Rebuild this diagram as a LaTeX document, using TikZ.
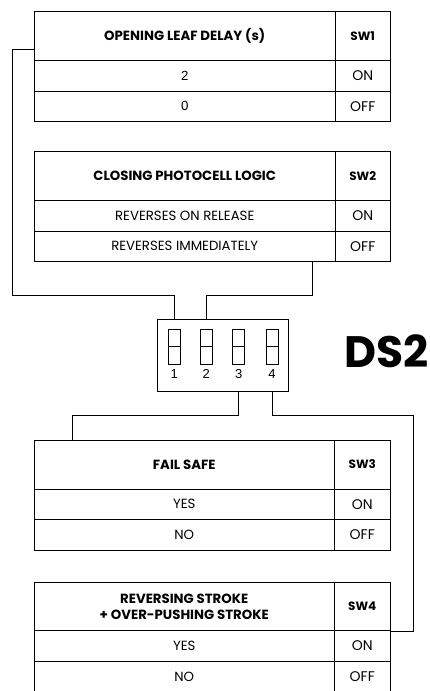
\documentclass[tikz,border=0pt]{standalone}
\usepackage{fontspec}
\setmainfont{Poppins}
\newfontfamily\numfont{Liberation Sans}
\usetikzlibrary{positioning}

\begin{document}
\begin{tikzpicture}[x=1pt, y=-1pt, line width=1pt, every node/.style={inner sep=0pt}]
\tikzstyle{cell}=[draw, anchor=north west, align=center]
\tikzstyle{hd}=[cell, minimum width=300.5pt, minimum height=49pt, font=\bfseries\fontsize{13.3}{16}\selectfont]
\tikzstyle{hds}=[cell, minimum width=55.5pt, minimum height=49pt, font=\bfseries\fontsize{12}{14}\selectfont]
\tikzstyle{row}=[cell, minimum width=300.5pt, minimum height=30.5pt, font=\fontsize{13.3}{16}\selectfont]
\tikzstyle{rows}=[cell, minimum width=55.5pt, minimum height=30.5pt, font=\fontsize{14}{16}\selectfont]
\tikzstyle{key}=[draw, minimum width=12pt, minimum height=35pt]
\useasboundingbox (0,0) rectangle (430,691);

% SW1
\node[hd] (h1) at (34,11) {OPENING LEAF DELAY (s)};
\node[hds] (h1s) at (334.5,11) {SW1};
\node[row, font=\numfont\fontsize{13.3}{16}\selectfont] (r1a) at (34,60) {2};
\node[rows] (r1as) at (334.5,60) {ON};
\node[row, font=\numfont\fontsize{13.3}{16}\selectfont] (r1b) at (34,90.5) {0};
\node[rows] (r1bs) at (334.5,90.5) {OFF};

% SW2
\node[hd] (h2) at (34,151) {CLOSING PHOTOCELL LOGIC};
\node[hds] (h2s) at (334.5,151) {SW2};
\node[row] (r2a) at (34,200) {REVERSES ON RELEASE};
\node[rows] (r2as) at (334.5,200) {ON};
\node[row] (r2b) at (34,230.5) {REVERSES IMMEDIATELY};
\node[rows] (r2bs) at (334.5,230.5) {OFF};

% dip switch
\node[draw, minimum width=131.5pt, minimum height=72.5pt] (dip) at (223,355.5) {};
\node[key] (k1) at (174.2,346.5) {};
\node[key] (k2) at (206.2,346.5) {};
\node[key] (k3) at (238.7,346.5) {};
\node[key] (k4) at (272,346.5) {};
\foreach \k/\n in {k1/1,k2/2,k3/3,k4/4} {
  \draw (\k.west) -- (\k.east);
  \node[font=\numfont\fontsize{13}{15}\selectfont, text height=9.5pt, text depth=0pt, below=4pt of \k] (n\n) {\n};
}
\node[font=\bfseries\fontsize{44}{46}\selectfont] (ds) at (387,351) {DS2};

% SW3
\node[hd] (h3) at (33.5,439.5) {FAIL SAFE};
\node[hds] (h3s) at (334,439.5) {SW3};
\node[row] (r3a) at (33.5,488.5) {YES};
\node[rows] (r3as) at (334,488.5) {ON};
\node[row] (r3b) at (33.5,519) {NO};
\node[rows] (r3bs) at (334,519) {OFF};

% SW4
\node[hd, minimum height=48pt] (h4) at (33.5,582) {REVERSING STROKE\\+ OVER-PUSHING STROKE};
\node[hds, minimum height=48pt] (h4s) at (334,582) {SW4};
\node[row] (r4a) at (33.5,630) {YES};
\node[rows] (r4as) at (334,630) {ON};
\node[row] (r4b) at (33.5,661) {NO};
\node[rows] (r4bs) at (334,661) {OFF};

% wiring
\coordinate (w1) at (34,49);
\coordinate (w2) at (312.3,261.5);
\coordinate (w3) at (72.7,439.5);
\draw (w1) -| (12,295.7) -| (k1 |- dip.north);
\draw (w2) |- (k2 |- 0,295.7) -- (k2 |- dip.north);
\draw (k3 |- dip.south) |- (72.7,415) -- (w3);
\draw (k4 |- dip.south) |- (413.3,415) |- (h4s.south east);
\end{tikzpicture}
\end{document}
